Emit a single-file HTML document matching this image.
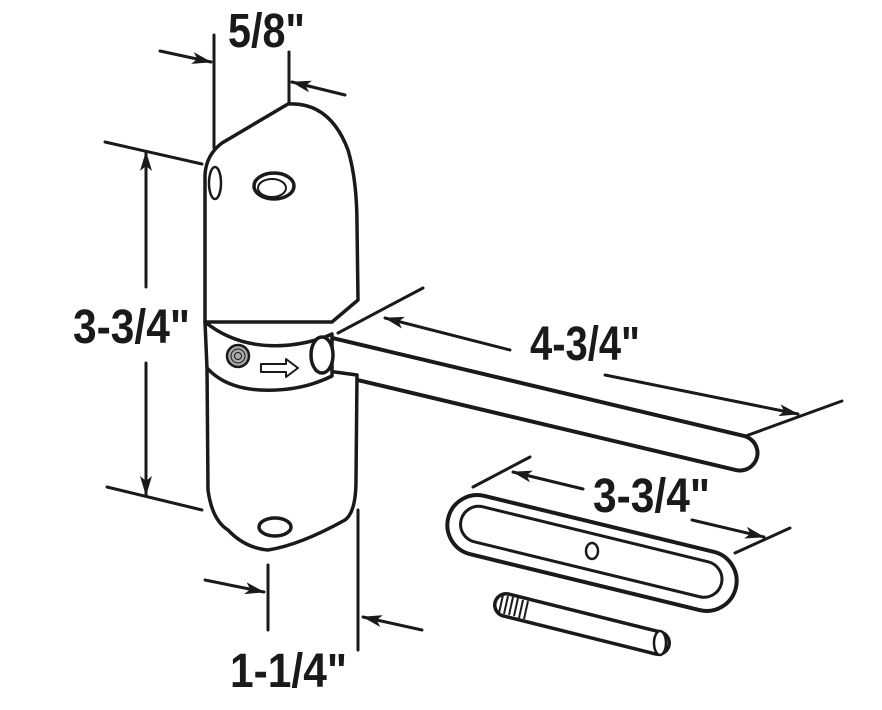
<!DOCTYPE html>
<html><head><meta charset="utf-8"><style>
html,body{margin:0;padding:0;background:#fff;}
svg{display:block}
text{font-family:"Liberation Sans",sans-serif;font-weight:bold;font-size:48px;fill:#1a1a1a}
</style></head><body>
<svg width="882" height="710" viewBox="0 0 882 710" xmlns="http://www.w3.org/2000/svg">
<defs>
<marker id="ah" viewBox="0 0 20 12" refX="19" refY="6" markerWidth="20" markerHeight="12" markerUnits="userSpaceOnUse" orient="auto">
<path d="M0,0 L20,6 L0,12 L5,6 Z" fill="#1a1a1a"/>
</marker>
</defs>
<g stroke="#1a1a1a" stroke-width="3" fill="none" stroke-linecap="round" stroke-linejoin="round">
<line x1="214" y1="35" x2="214" y2="148"/>
<line x1="160" y1="51" x2="211" y2="62" marker-end="url(#ah)"/>
<line x1="289" y1="52" x2="289" y2="165"/>
<line x1="345" y1="95" x2="292" y2="82" marker-end="url(#ah)"/>
<line x1="105" y1="142" x2="202" y2="164"/>
<line x1="107" y1="487" x2="202" y2="510"/>
<line x1="146" y1="287" x2="146" y2="152" marker-end="url(#ah)"/>
<line x1="146" y1="363" x2="146" y2="495" marker-end="url(#ah)"/>
<line x1="268" y1="565" x2="268" y2="630"/>
<line x1="358" y1="510" x2="358" y2="650"/>
<line x1="205" y1="580" x2="264" y2="592" marker-end="url(#ah)"/>
<line x1="422" y1="630" x2="363" y2="617" marker-end="url(#ah)"/>
<line x1="338" y1="333" x2="423" y2="288"/>
<line x1="732" y1="441" x2="842" y2="401"/>
<line x1="510" y1="350" x2="385" y2="318" marker-end="url(#ah)"/>
<line x1="605" y1="375" x2="798" y2="414" marker-end="url(#ah)"/>
<line x1="473" y1="487" x2="530" y2="457"/>
<line x1="735" y1="553" x2="790" y2="528"/>
<line x1="583" y1="489" x2="513" y2="472" marker-end="url(#ah)"/>
<line x1="692" y1="520" x2="764" y2="537" marker-end="url(#ah)"/>
</g>

<line x1="328" y1="355" x2="740" y2="453" stroke="#1a1a1a" stroke-width="39" stroke-linecap="round"/>
<line x1="328" y1="355" x2="740" y2="453" stroke="#fff" stroke-width="31" stroke-linecap="round"/>

<g stroke="#1a1a1a" stroke-width="3.5" fill="#fff" stroke-linejoin="round">
<path d="M205,322 L205,175 Q206,155 222,143 L288,104 Q330,102 348,150 Q357,180 357,225 L358,300 L332,322 Z"/>
<ellipse cx="215" cy="183" rx="6" ry="16" fill="none" stroke-width="2.5"/>
<ellipse cx="274" cy="186" rx="20" ry="13"/>
<ellipse cx="272" cy="188" rx="14" ry="9" fill="none" stroke-width="2"/>
<path d="M207,367 L208,490 Q212,520 228,530 Q245,548 268,550 Q300,545 345,520 Q356,512 356,480 L357,375 L320,370 Z"/>
<ellipse cx="275" cy="527" rx="16" ry="9"/>
<path d="M205,322 Q240,350 290,345 Q315,342 332,334 L332,376 Q300,392 260,390 Q225,388 207,368 Z"/>
<circle cx="238" cy="356" r="11" fill="#aaa" stroke-width="2.5"/>
<circle cx="238" cy="356" r="7" fill="none" stroke-width="1"/>
<circle cx="238" cy="356" r="3.5" fill="none" stroke-width="1"/>
<path d="M261,364 L286,364 L286,359 L298,368 L286,377 L286,372 L261,372 Z" stroke-width="2"/>
</g>
<ellipse cx="322" cy="355" rx="11" ry="18" fill="#fff" stroke="#1a1a1a" stroke-width="3.5"/>

<g transform="translate(592,553) rotate(13.7)" stroke="#1a1a1a" fill="none">
<rect x="-148" y="-30" width="296" height="60" rx="30" stroke-width="4"/>
<rect x="-135" y="-19" width="268" height="36" rx="18" stroke-width="3"/>
</g>
<ellipse cx="592" cy="551" rx="6" ry="8" fill="#fff" stroke="#1a1a1a" stroke-width="2.5"/>

<line x1="506" y1="605" x2="658" y2="643" stroke="#1a1a1a" stroke-width="26" stroke-linecap="round"/>
<line x1="506" y1="605" x2="658" y2="643" stroke="#fff" stroke-width="19" stroke-linecap="round"/>
<g stroke="#1a1a1a" stroke-width="2">
<line x1="503" y1="595" x2="499" y2="613"/><line x1="508" y1="596" x2="504" y2="614"/>
<line x1="513" y1="597" x2="509" y2="615"/><line x1="518" y1="598" x2="514" y2="616"/>
<line x1="523" y1="600" x2="519" y2="618"/><line x1="528" y1="601" x2="524" y2="619"/>
</g>
<ellipse cx="660" cy="643" rx="6" ry="12" fill="#fff" stroke="#1a1a1a" stroke-width="2.5"/>

<text x="228" y="47" textLength="77" lengthAdjust="spacingAndGlyphs">5/8"</text>
<text x="73" y="343" textLength="117" lengthAdjust="spacingAndGlyphs">3-3/4"</text>
<text x="530" y="360" textLength="110" lengthAdjust="spacingAndGlyphs">4-3/4"</text>
<text x="593" y="512" textLength="117" lengthAdjust="spacingAndGlyphs">3-3/4"</text>
<text x="230" y="687" textLength="117" lengthAdjust="spacingAndGlyphs">1-1/4"</text>
</svg>
</body></html>
